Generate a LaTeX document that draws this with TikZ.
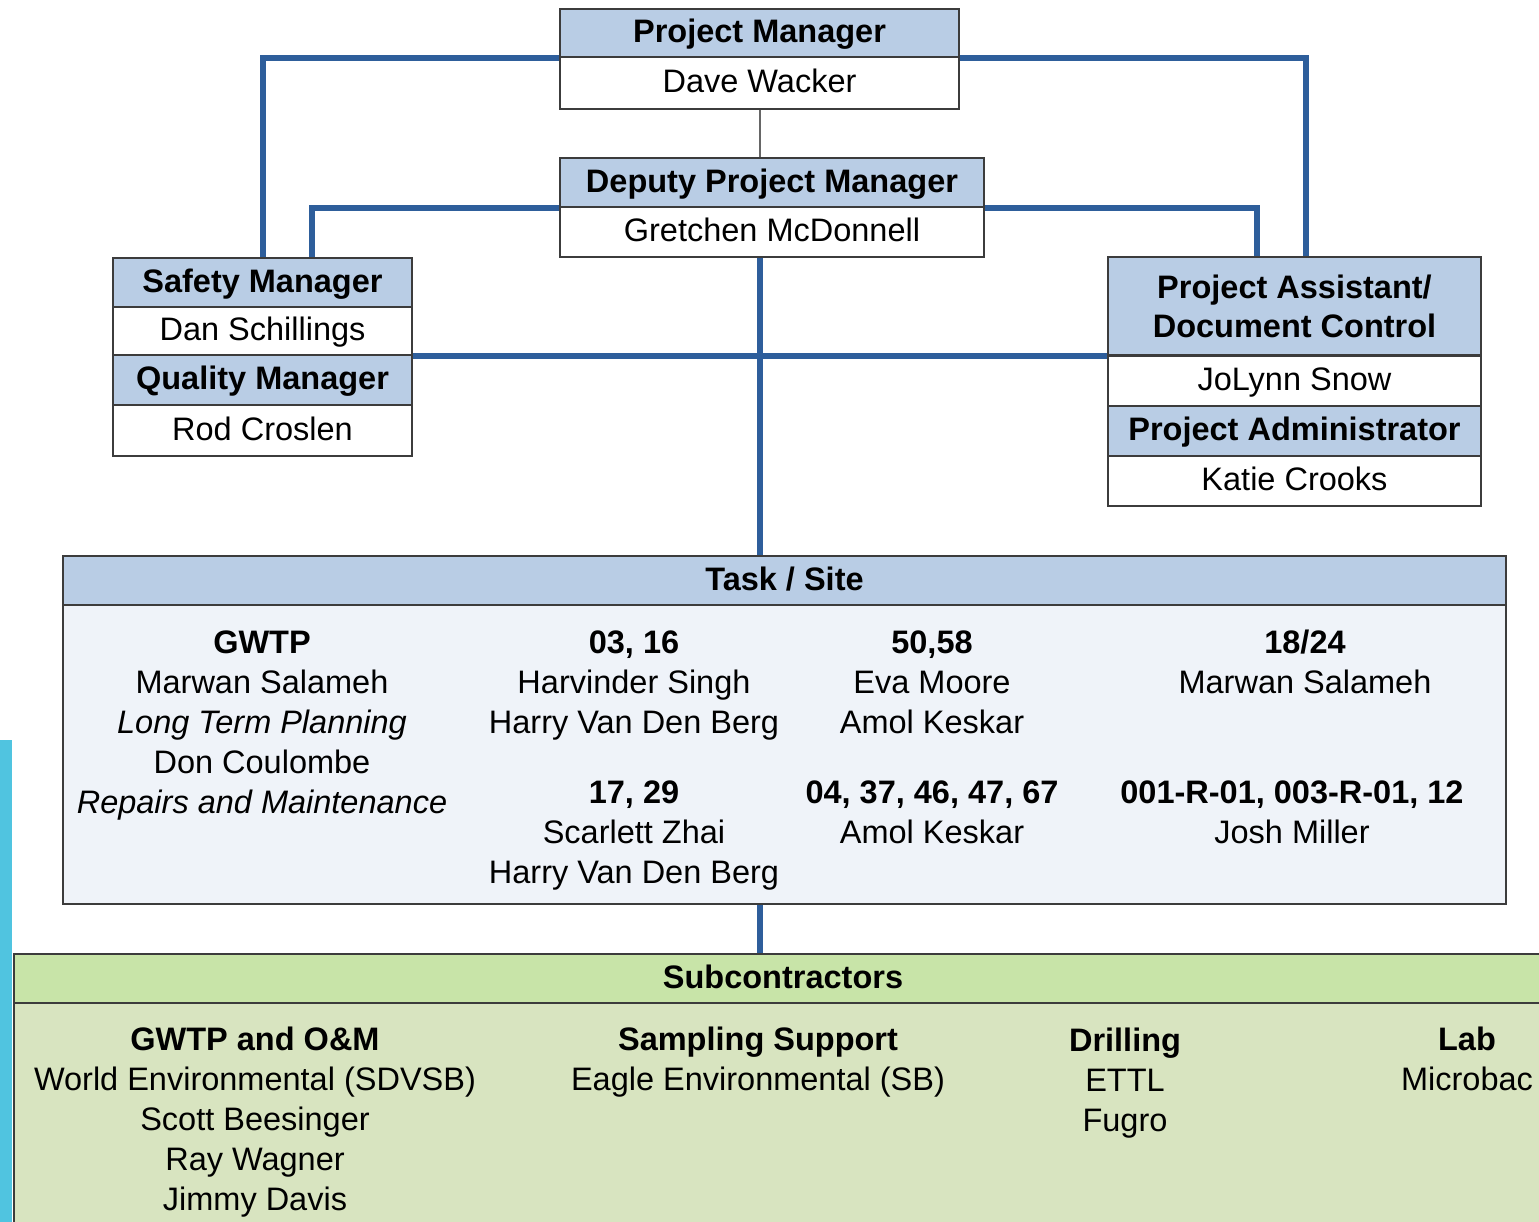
\documentclass[tikz,border=0pt]{standalone}
\usepackage{fontspec}
\setmainfont{Liberation Sans}
\definecolor{hdrblue}{RGB}{185,205,229}
\definecolor{taskbg}{RGB}{239,243,249}
\definecolor{subhdr}{RGB}{200,228,168}
\definecolor{subbg}{RGB}{216,228,192}
\definecolor{linkblue}{RGB}{46,94,155}
\definecolor{edgec}{RGB}{60,60,60}
\definecolor{stripc}{RGB}{80,196,224}
\pgfdeclarelayer{background}
\pgfsetlayers{background,main}
\tikzset{
  box/.style={draw=edgec, line width=2.5pt, inner sep=0pt, align=center, font=\fontsize{32.5}{40}\selectfont},
  one/.style={text height=23.3pt, text depth=4pt},
  hdr/.style={box, fill=hdrblue, font=\fontsize{32.5}{39}\selectfont\bfseries},
  bodyw/.style={box, fill=white},
  conn/.style={draw=linkblue, line width=6pt},
  thinconn/.style={draw=gray!80!black, line width=2pt},
  col/.style={anchor=north, inner sep=0pt, align=center, font=\fontsize{32.5}{40}\selectfont},
}
\begin{document}
\begin{tikzpicture}[x=1pt, y=-1pt]
\useasboundingbox (0,0) rectangle (1539,1222);
\clip (0,0) rectangle (1539,1222);

% Project manager
\node[hdr, one, minimum width=399pt, minimum height=48pt] (pmh) at (759.5,33) {Project Manager};
\node[bodyw, one, minimum width=399pt, minimum height=52pt] (pmb) at (759.5,83) {Dave Wacker};
% Deputy
\node[hdr, one, minimum width=424pt, minimum height=49pt] (dph) at (772,182.5) {Deputy Project Manager};
\node[bodyw, one, minimum width=424pt, minimum height=50pt] (dpb) at (772,232) {Gretchen McDonnell};
% Safety / Quality
\node[hdr, one, minimum width=299pt, minimum height=49pt] (smh) at (262.5,282.5) {Safety Manager};
\node[bodyw, one, minimum width=299pt, minimum height=48pt] (dan) at (262.5,331) {Dan Schillings};
\node[hdr, one, minimum width=299pt, minimum height=50pt] (qmh) at (262.5,380) {Quality Manager};
\node[bodyw, one, minimum width=299pt, minimum height=51pt] (rod) at (262.5,430.5) {Rod Croslen};
% Project assistant / administrator
\node[hdr, minimum width=373pt, minimum height=98pt] (pah) at (1294.5,306) {Project Assistant/\\Document Control};
\node[bodyw, one, minimum width=373pt, minimum height=50pt] (jol) at (1294.5,381) {JoLynn Snow};
\node[hdr, one, minimum width=373pt, minimum height=50pt] (padm) at (1294.5,431) {Project Administrator};
\node[bodyw, one, minimum width=373pt, minimum height=50pt] (kat) at (1294.5,481) {Katie Crooks};
% Task / Site
\node[hdr, one, minimum width=1443pt, minimum height=49pt] (taskh) at (784.5,580.5) {Task / Site};
\node[box, fill=taskbg, minimum width=1443pt, minimum height=299pt] (taskb) at (784.5,754.5) {};
\node[col] (t1) at (262,625) {\strut\textbf{GWTP}\\\strut Marwan Salameh\\\strut\textit{Long Term Planning}\\\strut Don Coulombe\\\strut\textit{Repairs and Maintenance}};
\node[col] (t2) at (634,625) {\strut\textbf{03, 16}\\\strut Harvinder Singh\\\strut Harry Van Den Berg};
\node[col] (t3) at (634,775) {\strut\textbf{17, 29}\\\strut Scarlett Zhai\\\strut Harry Van Den Berg};
\node[col] (t4) at (932,625) {\strut\textbf{50,58}\\\strut Eva Moore\\\strut Amol Keskar};
\node[col] (t5) at (932,775) {\strut\textbf{04, 37, 46, 47, 67}\\\strut Amol Keskar};
\node[col] (t6) at (1305,625) {\strut\textbf{18/24}\\\strut Marwan Salameh};
\node[col] (t7) at (1292,775) {\strut\textbf{001-R-01, 003-R-01, 12}\\\strut Josh Miller};
% Subcontractors
\node[box, fill=subhdr, one, font=\fontsize{32.5}{40}\selectfont\bfseries, minimum width=1538pt, minimum height=49pt] (subh) at (783,978.5) {Subcontractors};
\node[box, fill=subbg, minimum width=1538pt, minimum height=237pt] (subb) at (783,1121.5) {};
\node[col] (s1) at (255,1022) {\strut\textbf{GWTP and O\&M}\\\strut World Environmental (SDVSB)\\\strut Scott Beesinger\\\strut Ray Wagner\\\strut Jimmy Davis};
\node[col] (s2) at (758,1022) {\strut\textbf{Sampling Support}\\\strut Eagle Environmental (SB)};
\node[col] (s3) at (1125,1023) {\strut\textbf{Drilling}\\\strut ETTL\\\strut Fugro};
\node[col] (s4) at (1467,1022) {\strut\textbf{Lab}\\\strut Microbac};

\begin{pgfonlayer}{background}
\fill[white] (0,0) rectangle (1539,1222);
\fill[stripc] (0,740) rectangle (12,1222);
\draw[conn] (pmh.south west) -| (smh.north);
\draw[conn] (pmh.south east) -| ([xshift=11.5pt]pah.north);
\draw[conn] (dph.south west) -| ([xshift=49.5pt]smh.north);
\draw[conn] (dph.south east) -| ([xshift=-37.5pt]pah.north);
\draw[conn] (dan.south east) -- (dan.south east -| pah.west);
\draw[conn] (pmb.south |- dpb.south) -- (pmb.south |- taskh.north);
\draw[thinconn] (pmb.south) -- (pmb.south |- dph.north);
\draw[conn] (pmb.south |- taskb.south) -- (pmb.south |- subh.north);
\end{pgfonlayer}
\end{tikzpicture}
\end{document}
